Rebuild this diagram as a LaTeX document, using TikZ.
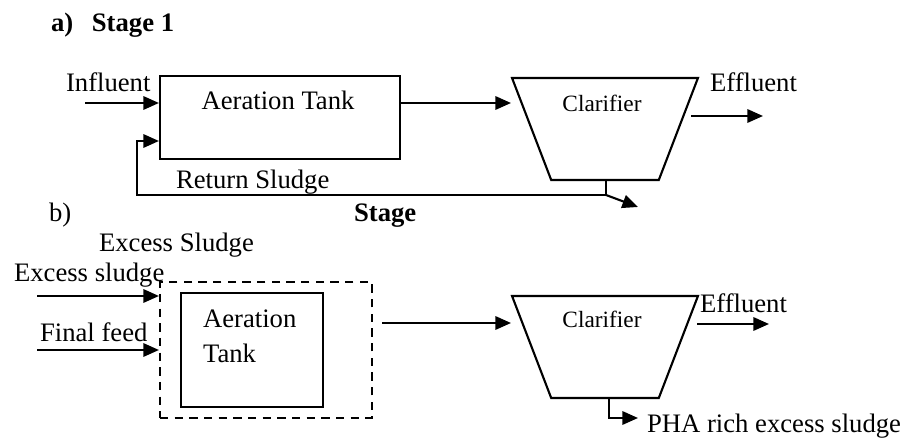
\documentclass[tikz,border=0pt]{standalone}
\usepackage{fontspec}
\setmainfont{Liberation Serif}
\usepackage{tikz}
\usetikzlibrary{positioning, shapes.geometric, arrows.meta}

\begin{document}
\begin{tikzpicture}[x=0.45pt, y=-0.45pt, line width=0.95pt, >={Triangle[length=7pt, width=6pt]}, every node/.style={font=\fontsize{12}{15.75}\selectfont, inner sep=0pt}]
    \useasboundingbox (0,0) rectangle (904,438);

    % stage 1
    \node [anchor=base west, font=\fontsize{12}{14}\selectfont\bfseries] (ta) at (50,32) {a)\hspace{0.7em}Stage 1};

    \node [draw, rectangle, minimum width=108pt, minimum height=37.35pt] (tank1) at (280,117.5) {};
    \node [anchor=base] (tanktxt1) at (278,110) {Aeration Tank};

    \node [draw, trapezium, shape border rotate=180, trapezium left angle=70, trapezium right angle=70, trapezium stretches=true, inner sep=2pt, minimum width=83.7pt, minimum height=45.9pt] (clar1) at (605,129) {};
    \node [anchor=base, font=\fontsize{10.5}{12}\selectfont] (clartxt1) at (602,112) {Clarifier};

    \node [anchor=base west] (infl) at (65,92) {Influent};
    \node [anchor=base west] (eff1) at (709,92) {Effluent};
    \node [anchor=base west] (ret) at (175,189) {Return Sludge};

    \coordinate (in1) at (85,103);
    \coordinate (cin1) at (511,103);
    \coordinate (cout1) at (691,116);
    \coordinate (split) at (606,195);

    \draw [->] (in1) -- (in1 -| tank1.west);
    \draw [->] (tank1.east |- cin1) -- (cin1);
    \draw [->] (cout1) -- ++(72,0);
    \draw (clar1.south -| split) -- (split);
    \draw [->] (split) -| (137,141) -- (tank1.west |- 0,141);
    \draw [->] (split) -- ++(32,12);

    % stage 2
    \node [anchor=base west] (tb) at (48,222) {b)};
    \node [anchor=base west, font=\fontsize{12}{14}\selectfont\bfseries] (stg) at (353,222) {Stage};
    \node [anchor=base west] (exs) at (98,252) {Excess Sludge};

    \node [draw, rectangle, dash pattern=on 3.8pt off 2.8pt, minimum width=95.4pt, minimum height=61.2pt] (reactor) at (266,350) {};
    \node [draw, rectangle, minimum width=63.9pt, minimum height=51.3pt] (tank2) at (252,350) {};
    \node [anchor=base west, align=left] (tanktxt2) at (202,363) {Aeration\\Tank};

    \node [draw, trapezium, shape border rotate=180, trapezium left angle=70, trapezium right angle=70, trapezium stretches=true, inner sep=2pt, minimum width=83.7pt, minimum height=45.9pt] (clar2) at (605,347) {};
    \node [anchor=base, font=\fontsize{10.5}{12}\selectfont] (clartxt2) at (602,328) {Clarifier};

    \node [anchor=base west] (exsin) at (13,282) {Excess sludge};
    \node [anchor=base west] (feed) at (39,342) {Final feed};
    \node [anchor=base west] (eff2) at (699,313) {Effluent};
    \node [anchor=base west] (pha) at (646,433) {PHA rich excess sludge};

    \coordinate (in2) at (37,296);
    \coordinate (in3) at (37,350);
    \coordinate (cin2) at (382,323);
    \coordinate (cout2) at (697,324);
    \coordinate (sl2) at (609,418);

    \draw [->] (in2) -- (in2 -| reactor.west);
    \draw [->] (in3) -- (in3 -| reactor.west);
    \draw [->] (cin2) -- (511,323);
    \draw [->] (cout2) -- ++(72,0);
    \draw [->] (clar2.south -| sl2) -- (sl2) -- ++(29,0);
\end{tikzpicture}
\end{document}
